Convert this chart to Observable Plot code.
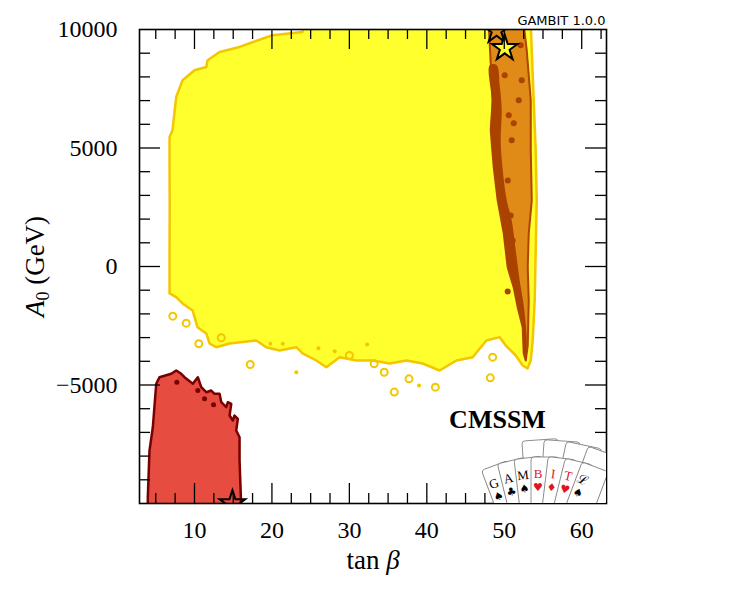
<!DOCTYPE html>
<html><head><meta charset="utf-8">
<script src="https://cdn.jsdelivr.net/npm/d3@7"></script>
<script src="https://cdn.jsdelivr.net/npm/@observablehq/plot@0.6"></script>
<style>body{margin:0;background:#fff}</style>
</head><body><div id="chart"></div>
<script>
// ---- data (tan beta, A0 in GeV) ----
const yellowTanB = [24.0,23.96,20.08,17.11,15.82,13.24,11.69,11.52,10.0,8.46,7.64,7.16,6.78,6.78,6.8,6.78,6.78,7.64,8.46,9.75,10.39,11.52,11.94,12.81,14.53,17.98,19.27,20.99,23.15,23.96,25.73,27.02,28.74,30.9,33.0,35.2,37.36,39.46,41.66,43.82,45.92,47.69,49.41,50.19,51.48,52.38,53.0,53.42,53.67,53.93,54.06,54.19,54.06,53.8,53.55,53.42];
const yellowA0   = [10200,9899,9759,9421,9265,9054,8704,8421,8281,7859,7154,5747,5465,4198,2500,680,-1136,-1292,-1558,-1853,-2559,-2825,-3248,-3404,-3248,-3121,-3404,-3543,-3404,-3670,-3966,-4248,-3826,-3966,-3966,-4093,-3966,-4093,-4389,-3966,-3826,-3121,-2981,-3333,-3755,-4178,-4304,-3966,-3121,-1432,680,2792,4903,7015,9127,10200];

const ringTanB = [7.2,8.93,10.56,13.46,17.2,30.0,33.2,34.5,37.7,41.1,48.2,48.5,35.8];
const ringA0   = [-2095,-2390,-3260,-3007,-4135,-3755,-4105,-4460,-4740,-5090,-4697,-3826,-5300];
const speckTanB = [19.8,21.4,23.15,28.1,32.3,39.0,26.0];
const speckA0   = [-3260,-3260,-4460,-3573,-3290,-5020,-3450];

const orangeTanB = [47.99,48.5,48.25,48.64,49.15,49.93,50.44,51.22,51.74,52.38,52.51,52.77,53.03,53.16,53.03,53.16,53.55,53.42,53.42,52.9,52.51];
const orangeA0   = [10200,7015,5747,4185,2792,1398,-38,-882,-1727,-2572,-3670,-3966,-3333,-1432,-38,1398,2792,4903,7015,9127,10200];

const darkTanB = [48.12,48.38,48.25,48.64,49.15,49.93,50.44,51.22,51.74,52.38,52.51,52.77,52.9,52.51,51.99,51.48,50.96,50.32,49.8,49.54,49.67,49.41,49.02];
const darkA0   = [8492,7015,5747,4185,2792,1398,-38,-882,-1727,-2572,-3670,-3966,-3121,-1643,-588,679,1946,2792,4058,5325,6592,7648,8492];
const darkDotTanB = [50.45,50.83,51.09,50.06,52.12,52.25,51.87,50.58,51.22,50.96,50.44,49.6];
const darkDotA0   = [3627,2150,1102,8070,9337,7859,7015,6380,6040,5325,-1050,9000];

const redTanB = [3.97,3.97,4.19,4.62,5.06,5.48,7.0,7.64,8.29,8.71,9.79,10.43,10.87,11.52,12.16,12.59,13.24,13.46,14.1,14.31,14.75,14.53,14.95,15.17,15.6,15.39,15.82,15.82,16.04];
const redA0   = [-10200,-9746,-7766,-6782,-4949,-4671,-4527,-4388,-4527,-4671,-4949,-4671,-5093,-5304,-5233,-5372,-5372,-5727,-5938,-5727,-5794,-6288,-6499,-6288,-6428,-6922,-7205,-8189,-10200];
const redDotTanB = [7.72,10.43,11.3,12.46];
const redDotA0   = [-4882,-5233,-5583,-5836];

const starOutlineTanB = [49.0,14.9];
const starOutlineA0   = [9950,-10000];
const starFilledTanB = [50.06];
const starFilledA0   = [9210];

const xMajor = [10,20,30,40,50,60];
const xMinor = [5,7.5,12.5,15,17.5,22.5,25,27.5,32.5,35,37.5,42.5,45,47.5,52.5,55,57.5,62.5];
const yMajor = [-5000,0,5000];
const yMinor = [-9000,-8000,-7000,-6000,-4000,-3000,-2000,-1000,1000,2000,3000,4000,6000,7000,8000,9000];
const yLabels = [-5000,0,5000,10000];

const xTitle = "tan β";
const yTitle = "A0 (GeV)";
const modelLabel = "CMSSM";
const versionLabel = "GAMBIT 1.0.0";
const cardLetters = ["G","A","M","B","I","T","ℒ"];
const cardSuits = ["♠","♣","♠","♥","♦","♥","♠"];
const cardRed = [false,false,false,true,true,true,false];

// ---- build tables ----
const pts = (xs, ys) => xs.map((x, i) => ({x, y: ys[i]}));
const serif = "'Liberation Serif','Times New Roman',serif";
const gold = "#f3c600";
const W = 739, H = 600, mL = 139, mR = 133, mT = 29, mB = 97;
const innerW = W - mL - mR, innerH = H - mT - mB;

const chart = Plot.plot({
  width: W, height: H,
  marginLeft: mL, marginRight: mR, marginTop: mT, marginBottom: mB,
  x: {domain: [2.9, 63.2], label: null},
  y: {domain: [-10000, 10000], label: null},
  style: {fontFamily: serif, fontSize: "24px", background: "white", color: "black", overflow: "visible"},
  marks: [
    Plot.line(pts(yellowTanB, yellowA0), {x: "x", y: "y", fill: "#ffff2e", stroke: gold, strokeWidth: 2.5, curve: "linear-closed", clip: true}),
    Plot.dot(pts(ringTanB, ringA0), {x: "x", y: "y", r: 3.5, stroke: gold, strokeWidth: 2, fill: "none", clip: true}),
    Plot.dot(pts(speckTanB, speckA0), {x: "x", y: "y", r: 2, fill: gold, clip: true}),
    Plot.line(pts(orangeTanB, orangeA0), {x: "x", y: "y", fill: "#e08a18", stroke: "#b04600", strokeWidth: 2, curve: "linear-closed", clip: true}),
    Plot.line(pts(darkTanB, darkA0), {x: "x", y: "y", fill: "#aa4200", stroke: "none", curve: "catmull-rom-closed", clip: true}),
    Plot.dot(pts(darkDotTanB, darkDotA0), {x: "x", y: "y", r: 3, fill: "#aa4200", clip: true}),
    Plot.line(pts(redTanB, redA0), {x: "x", y: "y", fill: "#e64c3f", stroke: "#780000", strokeWidth: 2.5, curve: "linear-closed", clip: true}),
    Plot.dot(pts(redDotTanB, redDotA0), {x: "x", y: "y", r: 2.5, fill: "#780000", clip: true}),
    Plot.dot(pts(starOutlineTanB, starOutlineA0), {x: "x", y: "y", symbol: "star", r: 8, stroke: "black", strokeWidth: 2, fill: "none", clip: true}),
    Plot.dot(pts(starFilledTanB, starFilledA0), {x: "x", y: "y", symbol: "star", r: 8, stroke: "black", strokeWidth: 2, fill: "#ffff2e", clip: true}),
    // inward ticks on all four sides
    Plot.tickX(xMinor, {x: d => d, insetTop: innerH - 10, stroke: "black", strokeWidth: 1.3}),
    Plot.tickX(xMinor, {x: d => d, insetBottom: innerH - 10, stroke: "black", strokeWidth: 1.3}),
    Plot.tickX(xMajor, {x: d => d, insetTop: innerH - 20, stroke: "black", strokeWidth: 1.3}),
    Plot.tickX(xMajor, {x: d => d, insetBottom: innerH - 20, stroke: "black", strokeWidth: 1.3}),
    Plot.tickY(yMinor, {y: d => d, insetRight: innerW - 11, stroke: "black", strokeWidth: 1.3}),
    Plot.tickY(yMinor, {y: d => d, insetLeft: innerW - 11, stroke: "black", strokeWidth: 1.3}),
    Plot.tickY(yMajor, {y: d => d, insetRight: innerW - 21, stroke: "black", strokeWidth: 1.3}),
    Plot.tickY(yMajor, {y: d => d, insetLeft: innerW - 21, stroke: "black", strokeWidth: 1.3}),
    Plot.frame({stroke: "black", strokeWidth: 1.6}),
    Plot.axisX(xMajor, {tickSize: 0, tickPadding: 17, tickFormat: d => String(d), label: null, fontSize: 24}),
    Plot.axisY(yLabels, {tickSize: 0, tickPadding: 22, tickFormat: d => (d < 0 ? "−" + Math.abs(d) : String(d)), label: null, fontSize: 24}),
    Plot.text([xTitle], {text: d => d, frameAnchor: "bottom", textAnchor: "middle", dy: 65, fontSize: 27, letterSpacing: 1}),
    Plot.text([yTitle], {text: d => d, frameAnchor: "left", textAnchor: "middle", dx: -104, rotate: -90, fontSize: 27, letterSpacing: 1}),
    Plot.text([modelLabel], {text: d => d, frameAnchor: "bottom-right", dx: -109, dy: -76, fontSize: 26, fontWeight: "bold", textAnchor: "middle", letterSpacing: 1}),
    Plot.text([versionLabel], {text: d => d, frameAnchor: "top-right", textAnchor: "end", lineAnchor: "bottom", dy: -5, dx: -1, fontSize: 13, fontFamily: "'DejaVu Sans',sans-serif"})
  ]
});

// rich text for the axis titles
chart.querySelectorAll("text").forEach(t => {
  const s = t.textContent;
  const ns = "http://www.w3.org/2000/svg";
  if (s === xTitle) {
    t.textContent = "";
    const a = document.createElementNS(ns, "tspan"); a.textContent = "tan ";
    const b = document.createElementNS(ns, "tspan"); b.textContent = "β"; b.setAttribute("font-style", "italic");
    t.append(a, b);
  } else if (s === yTitle) {
    t.textContent = "";
    const a = document.createElementNS(ns, "tspan"); a.textContent = "A"; a.setAttribute("font-style", "italic");
    const b = document.createElementNS(ns, "tspan"); b.textContent = "0"; b.setAttribute("font-size", "18"); b.setAttribute("dy", "5");
    const c = document.createElementNS(ns, "tspan"); c.textContent = " (GeV)"; c.setAttribute("dy", "-5");
    t.append(a, b, c);
  }
});

// GAMBIT playing-card logo, drawn inside the frame
(function () {
  const svg = d3.select(chart);
  const defs = svg.append("defs");
  defs.append("clipPath").attr("id", "frameclip").append("rect")
    .attr("x", mL).attr("y", mT).attr("width", innerW).attr("height", innerH);
  const g = svg.append("g").attr("clip-path", "url(#frameclip)");
  const px = mL + innerW - 63, py = H;
  const back = [-4, 4, 12, 20];
  back.forEach(a => {
    g.append("rect").attr("transform", `translate(${px},${py}) rotate(${a})`)
      .attr("x", -10).attr("y", -160).attr("width", 36).attr("height", 90).attr("rx", 3)
      .attr("fill", "white").attr("stroke", "#777").attr("stroke-width", 0.8);
  });
  cardLetters.forEach((L, i) => {
    const a = -20.6 + i * 6.87;
    const cg = g.append("g").attr("transform", `translate(${px},${py}) rotate(${a})`);
    cg.append("rect").attr("x", -12).attr("y", -143).attr("width", 28).attr("height", 80).attr("rx", 3)
      .attr("fill", "white").attr("stroke", "#777").attr("stroke-width", 0.8);
    const col = cardRed[i] ? "#e0141e" : "black";
    cg.append("text").attr("x", -5).attr("y", -122).attr("text-anchor", "middle")
      .attr("font-family", serif).attr("font-size", 13).attr("fill", col).text(L);
    cg.append("text").attr("x", -5).attr("y", -109).attr("text-anchor", "middle")
      .attr("font-family", "'DejaVu Sans',sans-serif").attr("font-size", 11).attr("fill", col).text(cardSuits[i]);
  });
})();

document.getElementById("chart").append(chart);
</script></body></html>
